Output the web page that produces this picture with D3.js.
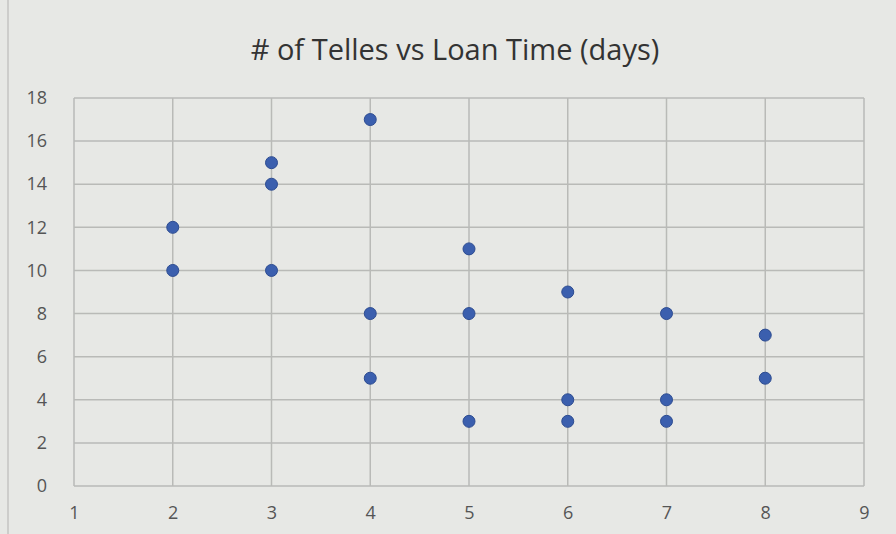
<!DOCTYPE html>
<html><head><meta charset="utf-8">
<script src="https://cdn.jsdelivr.net/npm/d3@7"></script>
<style>html,body{margin:0;padding:0;background:#e6e7e4;}</style>
</head><body>
<svg id="c" width="896" height="534"></svg>
<script>
const title = "# of Telles vs Loan Time (days)";
const loanDays = [2,2,3,3,3,4,4,4,5,5,5,6,6,6,7,7,7,8,8];
const telles   = [12,10,15,14,10,17,8,5,11,8,3,9,4,3,8,4,3,7,5];
const xTicks = [1,2,3,4,5,6,7,8,9];
const yTicks = [0,2,4,6,8,10,12,14,16,18];

const svg = d3.select("#c");
svg.append("rect").attr("width",896).attr("height",534).attr("fill","#e7e8e5");
svg.append("line").attr("x1",8).attr("x2",8).attr("y1",0).attr("y2",534).attr("stroke","#c4c5c2").attr("stroke-width",1.5);

const x = d3.scaleLinear().domain([1,9]).range([74,864]);
const y = d3.scaleLinear().domain([0,18]).range([486,98]);

const font = "'Open Sans', 'Liberation Sans', sans-serif";

svg.append("text").attr("x",455).attr("y",60).attr("text-anchor","middle")
  .attr("font-family",font).attr("font-size",29).attr("fill","#333").text(title);

const gridColor = "#b9bab7";
svg.append("g").selectAll("line").data(yTicks).join("line")
  .attr("x1",x(1)).attr("x2",x(9)).attr("y1",d=>y(d)).attr("y2",d=>y(d))
  .attr("stroke",gridColor).attr("stroke-width",1.5);
svg.append("g").selectAll("line").data(xTicks).join("line")
  .attr("x1",d=>x(d)).attr("x2",d=>x(d)).attr("y1",y(0)).attr("y2",y(18))
  .attr("stroke",gridColor).attr("stroke-width",1.5);

const yAxis = d3.axisLeft(y).tickValues(yTicks).tickSize(0).tickPadding(27);
const gy = svg.append("g").attr("transform",`translate(${x(1)},0)`).call(yAxis);
gy.select(".domain").remove();
gy.selectAll("text").attr("font-family",font).attr("font-size",18).attr("fill","#555");

const xAxis = d3.axisBottom(x).tickValues(xTicks).tickSize(0).tickPadding(20).tickFormat(d3.format("d"));
const gx = svg.append("g").attr("transform",`translate(0,${y(0)})`).call(xAxis);
gx.select(".domain").remove();
gx.selectAll("text").attr("font-family",font).attr("font-size",18).attr("fill","#555");

svg.append("g").selectAll("circle").data(loanDays.map((d,i)=>[d,telles[i]])).join("circle")
  .attr("cx",d=>x(d[0])).attr("cy",d=>y(d[1])).attr("r",6)
  .attr("fill","#3b5fae").attr("stroke","#2d4c91").attr("stroke-width",1);
</script>
</body></html>
